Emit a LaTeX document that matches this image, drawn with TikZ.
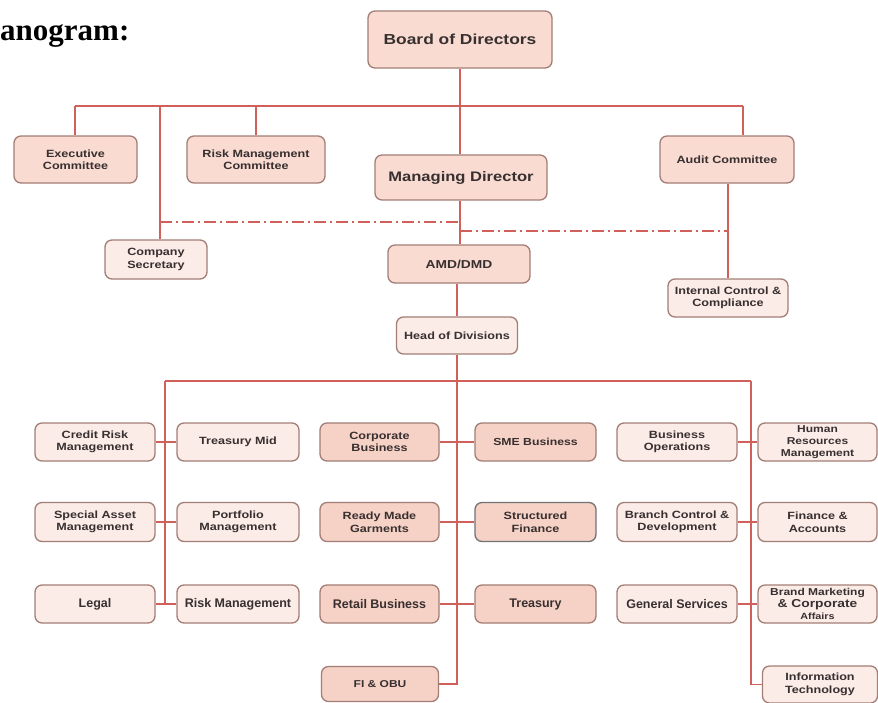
\documentclass[tikz,border=0pt]{standalone}
\usepackage{fontspec}
\setmainfont{Liberation Serif}
\setsansfont{Liberation Sans}
\newfontfamily\bxs{Liberation Sans}[FakeStretch=1.2]
\definecolor{linec}{HTML}{D2605A}
\definecolor{bordc}{HTML}{A27E76}
\definecolor{lightf}{HTML}{FCECE7}
\definecolor{midf}{HTML}{F9DBD2}
\definecolor{ctrf}{HTML}{F6D1C5}
\definecolor{txtc}{HTML}{383030}
\begin{document}
\begin{tikzpicture}[x=1pt,y=-1pt,
 bx/.style={draw=bordc, line width=1.3pt, rounded corners=7pt, fill=lightf, align=center, inner sep=1pt,
   font=\bxs\bfseries\fontsize{10.5}{12.5}\selectfont, text=txtc},
 sz/.style 2 args={minimum width=#1pt, minimum height=#2pt},
 mid/.style={fill=midf},
 ctr/.style={fill=ctrf},
 big/.style={font=\sffamily\bfseries\fontsize{12.5}{14}\selectfont},
 conn/.style={draw=linec, line width=1.8pt},
 dd/.style={conn, line width=1.5pt, dash pattern=on 12pt off 4pt on 2pt off 4pt}
]
\useasboundingbox (0,0) rectangle (878,702);
\fill[white] (0,0) rectangle (878,702);

% title
\node[anchor=base west, inner sep=0pt, font=\bfseries\fontsize{31}{32}\selectfont] (title) at (0,40) {anogram:};

% top level
\node[bx, mid, font=\bxs\bfseries\fontsize{14.5}{16}\selectfont, sz={184}{57}] (board) at (460,39.5) {Board of Directors};
\node[bx, mid, sz={123}{47}] (exec) at (75.5,159.5) {Executive\\Committee};
\node[bx, mid, sz={138}{47}] (rmc) at (256,159.5) {Risk Management\\Committee};
\node[bx, mid, font=\bxs\bfseries\fontsize{13.8}{16}\selectfont, sz={172}{45}] (md) at (461,177.5) {Managing Director};
\node[bx, mid, sz={134}{47}] (audit) at (727,159.5) {Audit Committee};
\node[bx, sz={102}{39}] (cs) at (156,259.5) {Company\\Secretary};
\node[bx, mid, font=\bxs\bfseries\fontsize{11.5}{13}\selectfont, sz={142}{38}] (amd) at (459,264) {AMD/DMD};
\node[bx, sz={120}{38}] (icc) at (728,298) {Internal Control \&\\Compliance};
\node[bx, sz={121}{37}] (hod) at (457,335.5) {Head of Divisions};

% column A
\node[bx, sz={120}{38}] (a1) at (95,442) {Credit Risk\\Management};
\node[bx, sz={120}{39}] (a2) at (95,522) {Special Asset\\Management};
\node[bx, big, sz={120}{38}] (a3) at (95,604) {Legal};
% column B
\node[bx, sz={122}{38}] (b1) at (238,442) {Treasury Mid};
\node[bx, sz={122}{39}] (b2) at (238,522) {Portfolio\\Management};
\node[bx, big, sz={122}{38}] (b3) at (238,604) {Risk Management};
% column C
\node[bx, ctr, sz={119}{38}] (c1) at (379.5,442) {Corporate\\Business};
\node[bx, ctr, sz={119}{39}] (c2) at (379.5,522) {Ready Made\\Garments};
\node[bx, ctr, big, sz={119}{38}] (c3) at (379.5,604) {Retail Business};
\node[bx, ctr, font=\bxs\bfseries\fontsize{10}{12}\selectfont, sz={117}{35}] (c4) at (380,684) {FI \& OBU};
% column D
\node[bx, ctr, font=\bxs\bfseries\fontsize{10.2}{12}\selectfont, sz={121}{38}] (d1) at (535.5,442) {SME Business};
\node[bx, ctr, draw=black!55, sz={121}{39}] (d2) at (535.5,522) {Structured\\Finance};
\node[bx, ctr, big, sz={121}{38}] (d3) at (535.5,604) {Treasury};
% column E
\node[bx, sz={120}{38}] (e1) at (677,442) {Business\\Operations};
\node[bx, sz={120}{39}] (e2) at (677,522) {Branch Control \&\\Development};
\node[bx, big, sz={120}{38}] (e3) at (677,604) {General Services};
% column F
\node[bx, font=\bxs\bfseries\fontsize{10}{12.3}\selectfont, sz={119}{38}] (f1) at (817.5,442) {Human\\Resources\\Management};
\node[bx, sz={119}{39}] (f2) at (817.5,522) {Finance \&\\Accounts};
\node[bx, font=\bxs\bfseries\fontsize{10}{12.3}\selectfont, sz={119}{38}] (f3) at (817.5,604) {Brand Marketing\\\fontsize{11.5}{12.3}\selectfont \& Corporate\\\fontsize{9}{10}\selectfont Affairs};
\node[bx, sz={115}{37}] (f4) at (820,684.5) {Information\\Technology};

% connector coordinates
\coordinate (tl) at (75,106);
\coordinate (tr) at (743,106);
\coordinate (csx) at (160,106);
\coordinate (ml) at (165,381);
\coordinate (mr) at (751,381);

% top connectors
\draw[conn] (board.south) -- (board.south |- md.north);
\draw[conn] (tl) -- (tr);
\draw[conn] (tl) -- (tl |- exec.north);
\draw[conn] (rmc.north) -- (rmc.north |- tl);
\draw[conn] (tr) -- (tr |- audit.north);
\draw[conn] (csx) -- (csx |- cs.north);
\draw[conn] (audit.south -| icc.north) -- (icc.north);
\draw[conn] (md.south -| board.south) -- (amd.north -| board.south);
\draw[conn] (amd.south -| hod.north) -- (hod.north);
\draw[dd] (160,222) -- (460,222);
\draw[dd] (460,231) -- (728,231);

% division connectors
\draw[conn] (hod.south) -- (hod.south |- c4.east) -- (c4.east);
\draw[conn] (ml) -- (mr);
\draw[conn] (ml) -- (ml |- a3.east);
\draw[conn] (mr) -- (mr |- f4.west) -- (f4.west);
\draw[conn] (a1.east) -- (b1.west);
\draw[conn] (a2.east) -- (b2.west);
\draw[conn] (a3.east) -- (b3.west);
\draw[conn] (c1.east) -- (d1.west);
\draw[conn] (c2.east) -- (d2.west);
\draw[conn] (c3.east) -- (d3.west);
\draw[conn] (e1.east) -- (f1.west);
\draw[conn] (e2.east) -- (f2.west);
\draw[conn] (e3.east) -- (f3.west);
\end{tikzpicture}
\end{document}
